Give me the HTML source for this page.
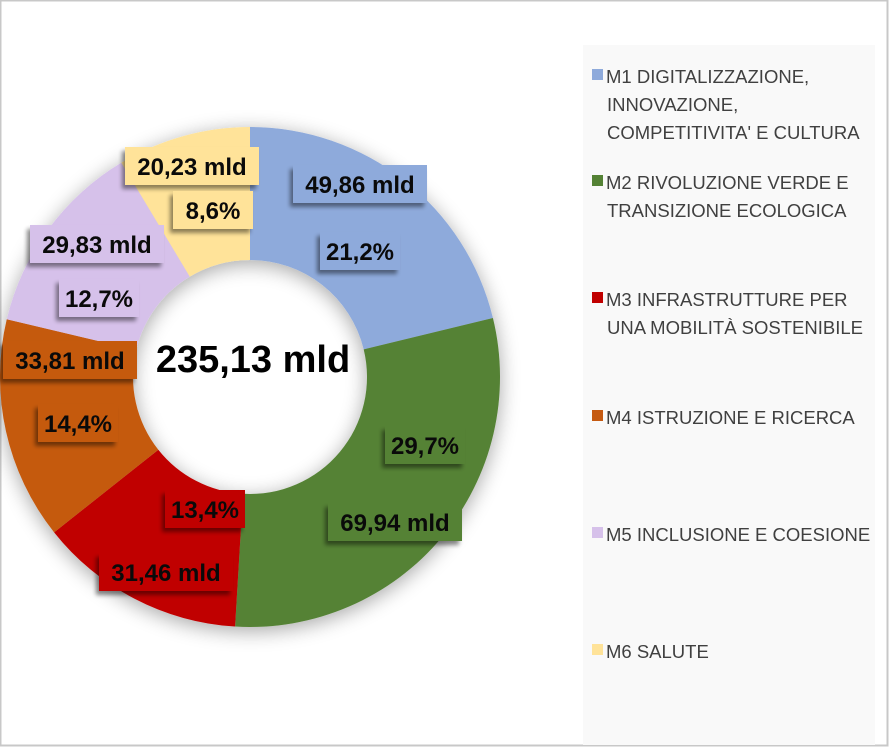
<!DOCTYPE html>
<html><head><meta charset="utf-8">
<style>
html,body{margin:0;padding:0;background:#fff;}
svg{display:block;font-family:"Liberation Sans",sans-serif;}
</style></head>
<body>
<svg id="chart" width="889" height="747" viewBox="0 0 889 747">
  <defs>
    <filter id="sh" x="-20%" y="-20%" width="140%" height="140%">
      <feGaussianBlur in="SourceAlpha" stdDeviation="10"/>
      <feOffset dx="0" dy="4"/>
      <feComponentTransfer><feFuncA type="linear" slope="0.35"/></feComponentTransfer>
      <feMerge><feMergeNode/><feMergeNode in="SourceGraphic"/></feMerge>
    </filter>
    <filter id="lsh" x="-20%" y="-20%" width="150%" height="150%">
      <feGaussianBlur in="SourceAlpha" stdDeviation="2"/>
      <feOffset dx="-3" dy="4"/>
      <feComponentTransfer><feFuncA type="linear" slope="0.45"/></feComponentTransfer>
      <feMerge><feMergeNode/><feMergeNode in="SourceGraphic"/></feMerge>
    </filter>
  </defs>
  <rect x="0.5" y="0.5" width="887" height="745" fill="#fff" stroke="#c8c8c8" stroke-width="2"/>
  <rect x="583" y="45" width="292" height="700" fill="#f9f9f9"/>
  <g id="donut" filter="url(#sh)"></g>
  <g id="labels"></g>
  <text x="253" y="372" text-anchor="middle" font-size="38" font-weight="bold" fill="#000">235,13 mld</text>
  <g id="legend"></g>
</svg>
<script>
const categories = ["M1","M2","M3","M4","M5","M6"];
const values = [49.86, 69.94, 31.46, 33.81, 29.83, 20.23];
const valueLabels = ["49,86 mld","69,94 mld","31,46 mld","33,81 mld","29,83 mld","20,23 mld"];
const pctLabels = ["21,2%","29,7%","13,4%","14,4%","12,7%","8,6%"];
const colors = ["#8eaadb","#548235","#c00000","#c55a11","#d6c1ea","#ffe399"];
const legendLines = [
  ["M1 DIGITALIZZAZIONE,","INNOVAZIONE,","COMPETITIVITA' E CULTURA"],
  ["M2 RIVOLUZIONE VERDE E","TRANSIZIONE ECOLOGICA"],
  ["M3 INFRASTRUTTURE PER","UNA MOBILITÀ SOSTENIBILE"],
  ["M4 ISTRUZIONE E RICERCA"],
  ["M5 INCLUSIONE E COESIONE"],
  ["M6 SALUTE"]
];
// label anchor positions (layout, not data)
const valuePos = [[360,184],[395,522],[166,572],[70,360],[97,244],[192,166]];
const pctPos = [[360,251],[425,445],[205,509],[78,423],[99,298],[213,210]];
const legendY = [83,189,306,424,541,658];

const NS="http://www.w3.org/2000/svg";
const cx=250, cy=377, R=250, r=117;
const total = values.reduce((a,b)=>a+b,0);
function pt(rad,ang){return [cx+rad*Math.sin(ang), cy-rad*Math.cos(ang)];}
const donut=document.getElementById('donut');
let acc=0;
values.forEach((v,i)=>{
  const a0=acc/total*2*Math.PI; acc+=v; const a1=acc/total*2*Math.PI;
  const large=(a1-a0)>Math.PI?1:0;
  const [x0,y0]=pt(R,a0),[x1,y1]=pt(R,a1),[x2,y2]=pt(r,a1),[x3,y3]=pt(r,a0);
  const p=document.createElementNS(NS,'path');
  p.setAttribute('d',`M${x0},${y0} A${R},${R} 0 ${large} 1 ${x1},${y1} L${x2},${y2} A${r},${r} 0 ${large} 0 ${x3},${y3} Z`);
  p.setAttribute('fill',colors[i]);
  
  
  donut.appendChild(p);
});
const labels=document.getElementById('labels');
function addLabel(txt,pos,color,w,name){
  const g=document.createElementNS(NS,'g');
  
  
  const rc=document.createElementNS(NS,'rect');
  rc.setAttribute('x',pos[0]-w/2);rc.setAttribute('y',pos[1]-19);
  rc.setAttribute('width',w);rc.setAttribute('height',38);
  rc.setAttribute('fill',color);rc.setAttribute('filter','url(#lsh)');
  g.appendChild(rc);
  const t=document.createElementNS(NS,'text');
  t.setAttribute('x',pos[0]);t.setAttribute('y',pos[1]+9);
  t.setAttribute('text-anchor','middle');t.setAttribute('font-size','24');
  t.setAttribute('font-weight','bold');t.setAttribute('fill','#0a0a0a');
  t.textContent=txt;g.appendChild(t);
  labels.appendChild(g);
}
values.forEach((v,i)=>{
  addLabel(valueLabels[i],valuePos[i],colors[i],134,'value-label-'+categories[i].toLowerCase());
  addLabel(pctLabels[i],pctPos[i],colors[i],80,'percent-label-'+categories[i].toLowerCase());
});
const legend=document.getElementById('legend');
legendLines.forEach((lines,i)=>{
  const g=document.createElementNS(NS,'g');
  
  
  const sq=document.createElementNS(NS,'rect');
  sq.setAttribute('x',592);sq.setAttribute('y',legendY[i]-14);
  sq.setAttribute('width',11);sq.setAttribute('height',11);
  sq.setAttribute('fill',colors[i]);g.appendChild(sq);
  lines.forEach((ln,j)=>{
    const t=document.createElementNS(NS,'text');
    t.setAttribute('x',j===0?606:607);t.setAttribute('y',legendY[i]+j*28);
    t.setAttribute('font-size','18.5');t.setAttribute('fill','#404040');
    t.textContent=ln;g.appendChild(t);
  });
  legend.appendChild(g);
});
</script>
</body></html>
